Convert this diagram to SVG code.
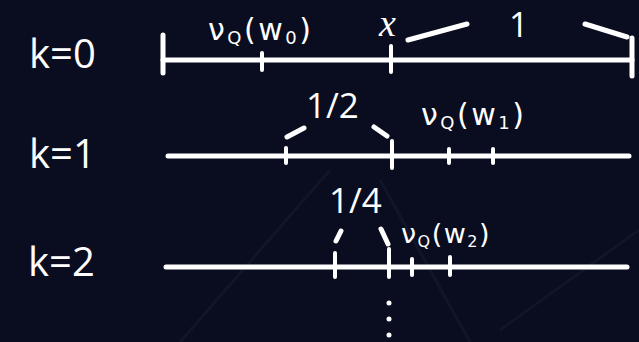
<svg xmlns="http://www.w3.org/2000/svg" width="639" height="342" viewBox="0 0 639 342">
<style>
.ln{stroke:#fff;stroke-width:5;stroke-linecap:round;fill:none}
.tk{stroke:#fff;stroke-width:4;stroke-linecap:round;fill:none}
.br{stroke:#fff;stroke-width:5;stroke-linecap:round;fill:none}
.lbl{fill:#fff;font-family:"Open Sans","Liberation Sans",sans-serif;font-size:40px}
.frac{fill:#fff;font-family:"Open Sans","Liberation Sans",sans-serif;font-size:35px}
.hw{fill:#fff;font-family:"DejaVu Sans","Liberation Sans",sans-serif;font-size:30px;letter-spacing:2.5px}
.hs{font-size:18px}
.xv{fill:#fff;font-family:"Liberation Serif",serif;font-style:italic;font-size:38px}
</style>
<rect width="639" height="342" fill="#0a0d1f"/>
<g id="bg" stroke="#11152a" stroke-width="3" fill="none">
<line x1="180" y1="342" x2="330" y2="170"/>
<line x1="380" y1="180" x2="470" y2="342"/>
<line x1="500" y1="330" x2="639" y2="230"/>
</g>
<g id="row0">
<text class="lbl" x="29" y="68">k=0</text>
<line class="ln" x1="163" y1="60" x2="632" y2="60"/>
<line class="ln" x1="163" y1="35" x2="163" y2="73"/>
<line class="ln" x1="632" y1="38" x2="632" y2="76"/>
<line class="tk" x1="262" y1="53" x2="262" y2="70"/>
<line class="tk" x1="391" y1="46" x2="391" y2="72"/>
<text class="hw" x="208" y="40">ν<tspan class="hs" dy="4">Q</tspan><tspan dy="-4">(w</tspan><tspan class="hs" dy="4">0</tspan><tspan dy="-4">)</tspan></text>
<text class="xv" x="379" y="36">x</text>
<line class="br" x1="408" y1="40" x2="467" y2="24"/>
<line class="br" x1="585" y1="24" x2="627" y2="37"/>
<text class="frac" x="509" y="37" style="font-size:34px">1</text>
</g>
<g id="row1">
<text class="lbl" x="29" y="168">k=1</text>
<line class="ln" x1="168" y1="156" x2="629" y2="156"/>
<line class="tk" x1="286" y1="148" x2="286" y2="163"/>
<line class="tk" x1="392" y1="141" x2="392" y2="168"/>
<line class="tk" x1="449" y1="149" x2="449" y2="163"/>
<line class="tk" x1="493" y1="149" x2="493" y2="163"/>
<line class="br" x1="287" y1="137" x2="304" y2="128"/>
<line class="br" x1="374" y1="127" x2="387" y2="136"/>
<text class="frac" x="306" y="118">1/2</text>
<text class="hw" x="421" y="125">ν<tspan class="hs" dy="4">Q</tspan><tspan dy="-4">(w</tspan><tspan class="hs" dy="4">1</tspan><tspan dy="-4">)</tspan></text>
</g>
<g id="row2">
<text class="lbl" x="28" y="276">k=2</text>
<line class="ln" x1="166" y1="267" x2="627" y2="267"/>
<line class="tk" x1="335" y1="253" x2="335" y2="277"/>
<line class="tk" x1="389" y1="249" x2="389" y2="277"/>
<line class="tk" x1="412" y1="259" x2="412" y2="275"/>
<line class="tk" x1="450" y1="257" x2="450" y2="275"/>
<line class="br" x1="336" y1="241" x2="341" y2="231"/>
<line class="br" x1="381" y1="229" x2="388" y2="244"/>
<text class="frac" x="329" y="213">1/4</text>
<text class="hw" x="401" y="243" style="font-size:27px;letter-spacing:1.5px">ν<tspan dy="4" style="font-size:16px">Q</tspan><tspan dy="-4">(w</tspan><tspan dy="4" style="font-size:16px">2</tspan><tspan dy="-4">)</tspan></text>
<circle cx="389" cy="303" r="2.5" fill="#fff"/>
<circle cx="389" cy="319" r="2.5" fill="#fff"/>
<circle cx="389" cy="335" r="2.5" fill="#fff"/>
</g>
</svg>
